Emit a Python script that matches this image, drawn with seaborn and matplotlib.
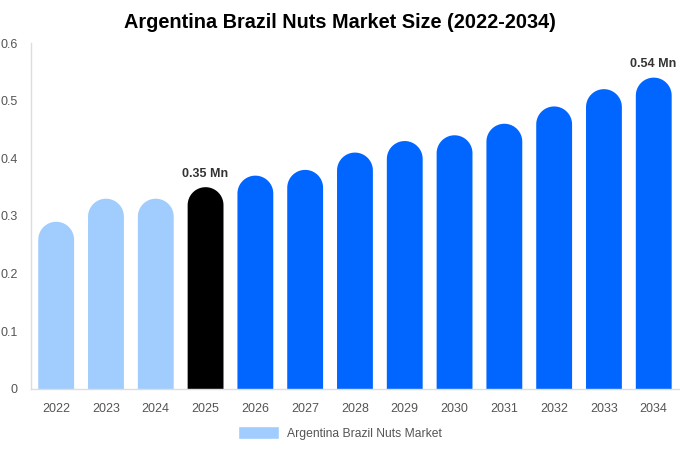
import numpy as np
import pandas as pd
import matplotlib
matplotlib.use('Agg')
import matplotlib.pyplot as plt
from matplotlib.patches import PathPatch, Patch
from matplotlib.path import Path
from matplotlib.ticker import FuncFormatter
import seaborn as sns

# 데이터
years = ['2022', '2023', '2024', '2025', '2026', '2027', '2028',
         '2029', '2030', '2031', '2032', '2033', '2034']
values = [0.29, 0.33, 0.33, 0.35, 0.37, 0.38, 0.41,
          0.43, 0.44, 0.46, 0.49, 0.52, 0.54]
bar_colors = ['#a0cdfd'] * 3 + ['#000000'] + ['#0066ff'] * 9
labels = {'2025': '0.35 Mn', '2034': '0.54 Mn'}
series_name = 'Argentina Brazil Nuts Market'

sns.set_theme(style='white')
plt.rcParams['font.family'] = ['Liberation Sans', 'DejaVu Sans']

df = pd.DataFrame({'year': years, 'value': values})

fig = plt.figure(figsize=(6.8, 4.5), dpi=100)
ax = fig.add_axes([0.046, 0.1356, 0.952, 0.7688])

sns.barplot(data=df, x='year', y='value', hue='year', palette=bar_colors,
            legend=False, width=0.72, saturation=1, ax=ax)
ax.set_ylim(0, 0.6)
ax.set_xlim(-0.5, len(years) - 0.5)

# 막대를 윗부분이 둥근 하나의 도형으로 다시 그림
fig.canvas.draw()
trans = ax.transData
px_per_x = trans.transform((1, 0))[0] - trans.transform((0, 0))[0]
px_per_y = trans.transform((0, 1))[1] - trans.transform((0, 0))[1]
theta = np.linspace(0, np.pi, 40)
for p in list(ax.patches):
    x0, w, v = p.get_x(), p.get_width(), p.get_height()
    rx = w / 2
    ry = rx * px_per_x / px_per_y
    cx, cy = x0 + rx, v - ry
    arc = np.column_stack([cx + rx * np.cos(theta), cy + ry * np.sin(theta)])
    verts = np.vstack([[x0, 0], [x0 + w, 0], arc, [x0, 0]])
    codes = [Path.MOVETO] + [Path.LINETO] * (len(verts) - 2) + [Path.CLOSEPOLY]
    ax.add_patch(PathPatch(Path(verts, codes), facecolor=p.get_facecolor(),
                           edgecolor='none', zorder=p.get_zorder()))
    p.set_visible(False)

for i, (y, v) in enumerate(zip(years, values)):
    if y in labels:
        ax.text(i - 0.02, v + 0.013, labels[y], ha='center', va='bottom',
                fontsize=9, fontweight='bold', color='#333333')

ax.set_xlabel('')
ax.set_ylabel('')
ax.set_yticks(np.arange(0, 0.61, 0.1))
ax.yaxis.set_major_formatter(FuncFormatter(lambda v, _: '0' if v == 0 else f'{v:.1f}'))
ax.tick_params(axis='both', labelsize=9, colors='#555555', length=0)
ax.tick_params(axis='x', pad=10)
ax.tick_params(axis='y', pad=10)
for s in ['top', 'right']:
    ax.spines[s].set_visible(False)
for s in ['left', 'bottom']:
    ax.spines[s].set_color('#dddddd')
    ax.spines[s].set_linewidth(1)

fig.suptitle('Argentina Brazil Nuts Market Size (2022-2034)', x=0.5, y=0.972,
             fontsize=14.3, fontweight='bold', color='#000000')

leg = fig.legend(handles=[Patch(facecolor='#a0cdfd', label=series_name)],
                 loc='center', bbox_to_anchor=(0.5, 0.038), frameon=False,
                 fontsize=8.7, handlelength=3.4, handleheight=1.3, handletextpad=0.6)
for t in leg.get_texts():
    t.set_color('#555555')

fig.savefig('out.png', dpi=100)
